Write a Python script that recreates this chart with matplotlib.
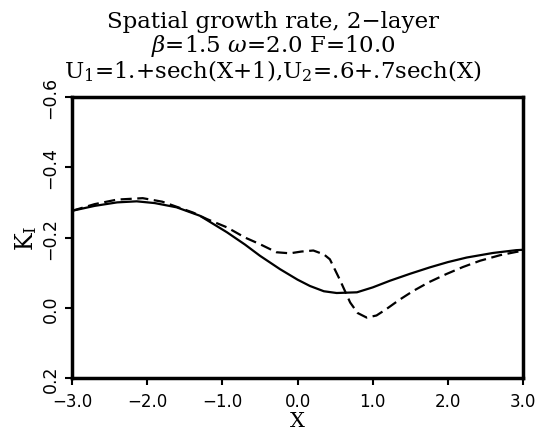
import matplotlib
matplotlib.use('Agg')
import matplotlib.pyplot as plt

plt.rcParams['font.family'] = 'DejaVu Serif'
plt.rcParams['mathtext.fontset'] = 'dejavuserif'

# solid curve
x_solid = [-3.0, -2.7, -2.4, -2.14, -1.9, -1.61, -1.3, -0.94, -0.7, -0.5, -0.234, 0.0,
           0.165, 0.35, 0.52, 0.79, 1.0, 1.23, 1.5, 1.76, 2.0, 2.25, 2.6, 2.91, 3.0]
y_solid = [-0.276, -0.290, -0.300, -0.303, -0.298, -0.286, -0.262, -0.215, -0.180, -0.148, -0.110, -0.080,
           -0.062, -0.047, -0.042, -0.044, -0.058, -0.077, -0.097, -0.115, -0.130, -0.143, -0.156, -0.164, -0.165]

# dashed curve
x_dash = [-3.0, -2.7, -2.4, -2.06, -1.8, -1.39, -1.2, -0.94, -0.7, -0.5, -0.28, -0.1, 0.05, 0.21,
          0.35, 0.43, 0.56, 0.70, 0.80, 0.92, 1.05, 1.18, 1.35, 1.54, 1.75, 1.98, 2.2, 2.43, 2.7, 2.91, 3.0]
y_dash = [-0.276, -0.295, -0.308, -0.312, -0.302, -0.271, -0.252, -0.229, -0.200, -0.181, -0.158, -0.155, -0.160, -0.163,
          -0.152, -0.138, -0.081, -0.015, 0.015, 0.028, 0.022, 0.004, -0.022, -0.048, -0.073, -0.096, -0.116, -0.134, -0.150, -0.159, -0.162]

xticks = [-3.0, -2.0, -1.0, 0.0, 1.0, 2.0, 3.0]
yticks = [-0.6, -0.4, -0.2, 0.0, 0.2]

fig = plt.figure(figsize=(5.5, 4.35), dpi=100)
ax = fig.add_axes([0.131, 0.1287, 0.82, 0.646])

ax.plot(x_solid, y_solid, color='black', lw=1.6)
ax.plot(x_dash, y_dash, color='black', lw=1.6, dashes=(5, 2.5))

ax.set_xlim(-3, 3)
ax.set_ylim(0.2, -0.6)
ax.set_xticks(xticks)
ax.set_xticklabels(['\u22123.0', '\u22122.0', '\u22121.0', '0.0', '1.0', '2.0', '3.0'], fontsize=12,
                   family='DejaVu Sans', weight='medium')
ax.set_yticks(yticks)
ax.set_yticklabels(['\u22120.6', '\u22120.4', '\u22120.2', '0.0', '0.2'], fontsize=12.5, rotation=90,
                   va='center', family='DejaVu Sans', weight='medium')
ax.tick_params(axis='x', direction='out', length=5, width=1.5, pad=5)
ax.tick_params(axis='y', direction='out', length=5, width=1.5, pad=4)

for s in ax.spines.values():
    s.set_linewidth(2.5)

ax.set_xlabel('X', fontsize=15, labelpad=1)
ax.set_ylabel('K$_\\mathrm{I}$', fontsize=17, labelpad=2)

fig.text(273 / 550, 1 - 11 / 435,
         'Spatial growth rate, 2\u2212layer\n'
         '$\\beta$=1.5 $\\omega$=2.0 F=10.0\n'
         'U$_1$=1.+sech(X+1),U$_2$=.6+.7sech(X)',
         fontsize=16.5, linespacing=1.0, ha='center', va='top')

fig.savefig('out.png', dpi=100)
